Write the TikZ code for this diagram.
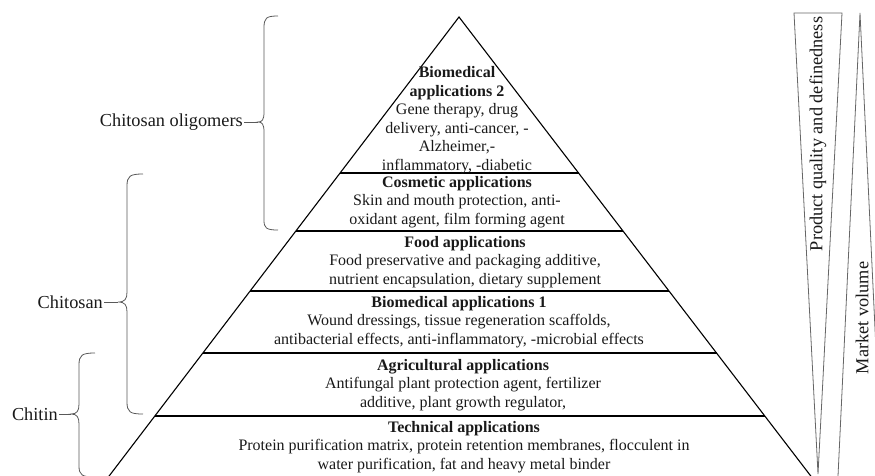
\documentclass[tikz,border=0pt]{standalone}
\usepackage{fontspec}
\setmainfont{Liberation Serif}
\tikzset{
  pyr/.style={line width=1.1pt, black},
  layer/.style={line width=1.6pt, black},
  bracket/.style={line width=0.8pt, black!65},
  wedge/.style={line width=0.8pt, black!60},
  appl/.style={align=center, inner sep=0pt, text=black!90, font=\fontsize{16}{18.5}\selectfont},
  sidelabel/.style={inner sep=1pt, text=black!90, font=\fontsize{18.3}{19}\selectfont},
}
\begin{document}
\begin{tikzpicture}[x=1pt,y=-1pt]
      \clip (0,0) rectangle (875,475);
      % pyramid
      \coordinate (apex) at (459,17);
      \draw[pyr] (87,505) -- (apex) -- (833,505);
      \draw[layer] (340,173) -- (578.5,173);
      \draw[layer] (296,231) -- (623,231);
      \draw[layer] (250,291) -- (669,291);
      \draw[layer] (203,353) -- (716.5,353);
      \draw[layer] (155,416) -- (764.5,416);
      % levels
      \node[appl] (bio2) at (457,120) {\textbf{Biomedical}\\\textbf{applications 2}\\Gene therapy, drug\\delivery, anti-cancer, -\\Alzheimer,-\\inflammatory, -diabetic};
      \node[appl] (cosm) at (457,202) {\textbf{Cosmetic applications}\\Skin and mouth protection, anti-\\oxidant agent, film forming agent};
      \node[appl] (food) at (465,262) {\textbf{Food applications}\\Food preservative and packaging additive,\\nutrient encapsulation, dietary supplement};
      \node[appl] (bio1) at (459,322) {\textbf{Biomedical applications 1}\\Wound dressings, tissue regeneration scaffolds,\\antibacterial effects, anti-inflammatory, -microbial effects};
      \node[appl] (agri) at (463,385) {\textbf{Agricultural applications}\\Antifungal plant protection agent, fertilizer\\additive, plant growth regulator,};
      \node[appl] (tech) at (464,447) {\textbf{Technical applications}\\Protein purification matrix, protein retention membranes, flocculent in\\water purification, fat and heavy metal binder};
      % braces
      \node[sidelabel, anchor=east] (oligo) at (244,122) {Chitosan oligomers};
      \coordinate (oligotip) at (258,122);
      \draw[bracket] (oligo.east) -- (oligotip);
      \draw[bracket] (278,16) .. controls (266,16) and (264,18) .. (264,28) -- (264,112)
        .. controls (264,120) and (262,122) .. (oligotip)
        .. controls (262,122) and (264,124) .. (264,132) -- (264,220)
        .. controls (264,228) and (266,230) .. (278,230);
      \node[sidelabel, anchor=east] (chitosan) at (104,302) {Chitosan};
      \coordinate (chitosantip) at (118,302);
      \draw[bracket] (chitosan.east) -- (chitosantip);
      \draw[bracket] (143,174) .. controls (130,174) and (127,176) .. (127,186) -- (127,292)
        .. controls (127,299) and (125,302) .. (chitosantip)
        .. controls (125,302) and (127,305) .. (127,312) -- (127,402)
        .. controls (127,412) and (130,414) .. (143,414);
      \node[sidelabel, anchor=east] (chitin) at (59,414) {Chitin};
      \coordinate (chitintip) at (71,414);
      \draw[bracket] (chitin.east) -- (chitintip);
      \draw[bracket] (95,353) .. controls (82,353) and (79,355) .. (79,365) -- (79,404)
        .. controls (79,411) and (77,414) .. (chitintip)
        .. controls (77,414) and (79,417) .. (79,424) -- (79,466)
        .. controls (79,475) and (82,477) .. (95,477);
      % wedges
      \draw[wedge] (794,13) -- (842,13) -- (818,474) -- cycle;
      \node[sidelabel, rotate=90] (quality) at (818,134) {Product quality and definedness};
      \draw[wedge] (838,476) -- (860,13) -- (882,476);
      \node[sidelabel, rotate=90] (volume) at (862,318) {Market volume};
   \end{tikzpicture}
\end{document}
